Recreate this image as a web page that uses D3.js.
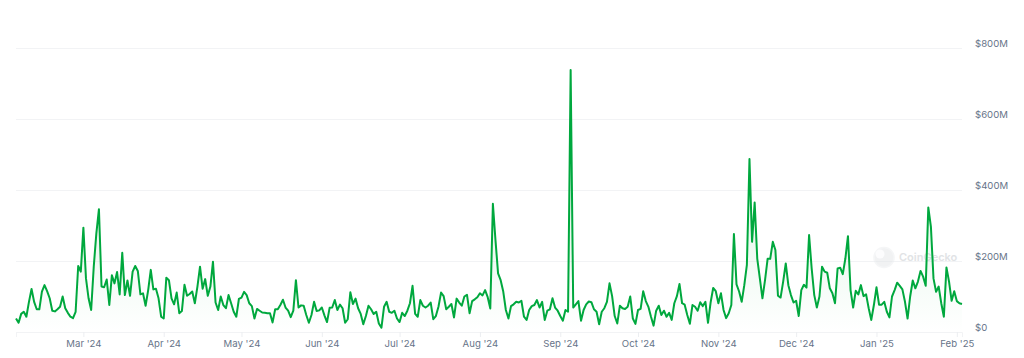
<!DOCTYPE html>
<html>
<head>
<meta charset="utf-8">
<script src="https://cdn.jsdelivr.net/npm/d3@7"></script>
<style>
  html, body { margin: 0; padding: 0; background: #fff; overflow: hidden; }
  text { font-family: Inter, "Noto Sans", sans-serif; }
</style>
</head>
<body>
<div id="chart"></div>
<script>
// daily volume in $M, first day is 4 Feb 2024
const volFeb = [38,26,51,57,43,85,121,85,64,64,114,132,115,95,60,58,64,71,100,67,54,43,39,57,186,170];
const volMar = [294,151,95,62,184,278,346,128,126,148,76,160,137,169,106,223,104,145,102,170,186,172,106,109,74,118,175,120,122,95,43];
const volApr = [38,153,146,95,78,111,53,59,133,102,107,114,81,128,184,122,149,102,128,198,83,62,100,76,67,104,81,57,43,93];
const volMay = [97,113,104,81,73,38,65,60,55,54,53,53,27,64,64,76,91,69,60,42,60,146,69,75,74,48,26,48,85,59,61];
const volJun = [69,47,28,68,69,90,62,77,67,26,36,112,79,94,67,51,22,45,74,64,51,57,24,12,71,85,57,54,60,38];
const volJul = [28,54,45,60,81,130,51,43,90,74,69,74,83,36,45,71,111,101,64,71,79,41,94,83,74,100,105,53,87,92,98];
const volAug = [109,103,118,98,66,361,259,165,146,114,62,38,73,78,85,83,88,43,34,62,73,76,90,69,85,34,60,64,95,69,60];
const volSep = [45,32,62,57,738,69,78,87,32,62,78,86,84,64,57,22,57,67,85,137,101,45,24,74,67,65,71,100,38,23];
const volOct = [62,65,115,87,71,43,18,60,74,48,60,43,54,34,81,101,135,81,77,48,23,76,71,60,84,73,85,26,83,124,115];
const volNov = [81,109,62,39,53,76,276,134,114,85,132,189,487,254,365,207,151,95,146,206,206,254,231,102,97,142,193,132,104,83];
const volDec = [88,45,118,133,125,273,179,104,69,100,184,170,167,123,109,81,179,181,163,207,270,118,69,116,106,132,101,106,67,34,76];
const volJan = [126,77,77,85,57,41,100,118,139,130,120,85,38,100,145,123,142,172,156,130,351,297,151,113,128,81,43,182,142,88,115];
const volEnd = [87,81,79];
const volumes = [].concat(volFeb, volMar, volApr, volMay, volJun, volJul, volAug, volSep, volOct, volNov, volDec, volJan, volEnd);

const yTicks = [0, 200, 400, 600, 800];
const xTickDates = ["2024-03-01","2024-04-01","2024-05-01","2024-06-01","2024-07-01","2024-08-01","2024-09-01","2024-10-01","2024-11-01","2024-12-01","2025-01-01","2025-02-01"];

const width = 1024, height = 358;
const margin = { top: 48, right: 62, bottom: 26, left: 16 };

const parse = d3.timeParse("%Y-%m-%d");
const startDate = parse("2024-02-04");
const data = volumes.map((v, i) => ({ date: d3.timeDay.offset(startDate, i), value: v }));

const svg = d3.select("#chart").append("svg")
    .attr("width", width)
    .attr("height", height)
    .style("display", "block");

const x = d3.scaleTime()
    .domain([startDate, parse("2025-02-03")])
    .range([margin.left, width - margin.right]);

const y = d3.scaleLinear()
    .domain([0, 800])
    .range([height - margin.bottom, margin.top]);

// fade under the line
const grad = svg.append("defs").append("linearGradient")
    .attr("id", "fade")
    .attr("gradientUnits", "userSpaceOnUse")
    .attr("x1", 0).attr("x2", 0)
    .attr("y1", y(500)).attr("y2", y(0));
grad.append("stop").attr("offset", "0%").attr("stop-color", "#00a83e").attr("stop-opacity", 0.14);
grad.append("stop").attr("offset", "100%").attr("stop-color", "#00a83e").attr("stop-opacity", 0);

// y axis, labels sit just above their grid line
const yAxis = svg.append("g")
    .attr("transform", `translate(${margin.left},0)`)
    .call(d3.axisRight(y)
        .tickValues(yTicks)
        .tickSize(x.range()[1] - margin.left)
        .tickPadding(13)
        .tickFormat(d => d === 0 ? "$0" : `$${d}M`));
yAxis.select(".domain").remove();
yAxis.selectAll("line").attr("stroke", "#f2f3f5");
yAxis.selectAll("text")
    .attr("dy", "-0.12em")
    .attr("fill", "#677489")
    .style("font-size", "9.6px");

// x axis
const xAxis = svg.append("g")
    .attr("transform", `translate(0,${y(0)})`)
    .call(d3.axisBottom(x)
        .tickValues(xTickDates.map(parse))
        .tickSize(5)
        .tickPadding(3)
        .tickFormat(d3.timeFormat("%b '%y")));
xAxis.select(".domain").attr("stroke", "#f2f3f5");
xAxis.selectAll("line").attr("stroke", "#eceef1");
xAxis.selectAll("text")
    .attr("fill", "#677489")
    .style("font-size", "9.6px");

// watermark
const mark = svg.append("g").attr("opacity", 0.5);
mark.append("circle")
    .attr("cx", 884).attr("cy", 257.5).attr("r", 10)
    .attr("fill", "#e4e6e9").attr("stroke", "#eceef0").attr("stroke-width", 1.5);
mark.append("circle")
    .attr("cx", 880).attr("cy", 254).attr("r", 4.5)
    .attr("fill", "#fbfbfc");
mark.append("text")
    .attr("x", 899).attr("y", 261)
    .attr("fill", "#c4c8cd")
    .style("font-size", "11px")
    .style("font-weight", 600)
    .text("CoinGecko");

const area = d3.area()
    .x(d => x(d.date))
    .y0(y(0))
    .y1(d => y(d.value));

const line = d3.line()
    .x(d => x(d.date))
    .y(d => y(d.value));

svg.append("path")
    .datum(data)
    .attr("fill", "url(#fade)")
    .attr("d", area);

svg.append("path")
    .datum(data)
    .attr("fill", "none")
    .attr("stroke", "#00a83e")
    .attr("stroke-width", 2)
    .attr("stroke-linejoin", "round")
    .attr("d", line);
</script>
</body>
</html>
